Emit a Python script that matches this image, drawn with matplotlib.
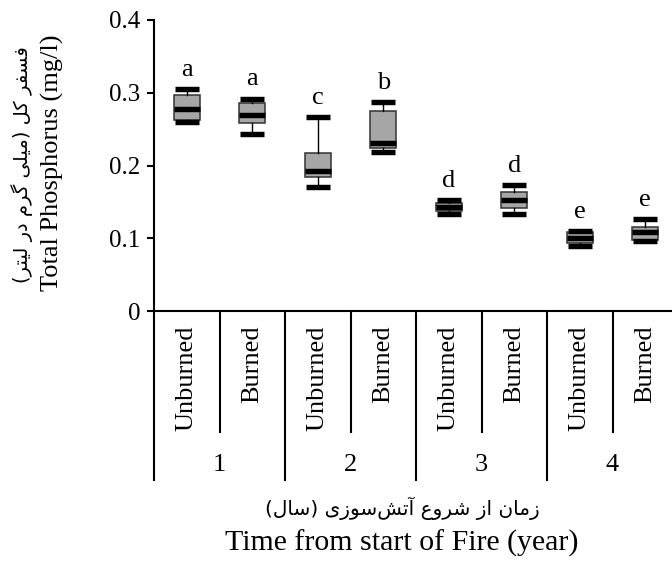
import numpy as np
import matplotlib
matplotlib.use("Agg")
import matplotlib.pyplot as plt
import matplotlib.transforms as mtransforms

plt.rcParams['font.family'] = ['Liberation Serif', 'DejaVu Sans']
plt.rcParams['axes.unicode_minus'] = False

# box statistics for each treatment (mg/l)
treatments = ['Unburned', 'Burned', 'Unburned', 'Burned',
              'Unburned', 'Burned', 'Unburned', 'Burned']
years = ['1', '2', '3', '4']
whishi = [0.305, 0.292, 0.266, 0.287, 0.152, 0.173, 0.110, 0.126]
q3 = [0.297, 0.286, 0.217, 0.275, 0.148, 0.163, 0.108, 0.116]
med = [0.277, 0.270, 0.193, 0.231, 0.143, 0.153, 0.100, 0.108]
q1 = [0.262, 0.259, 0.184, 0.224, 0.137, 0.141, 0.093, 0.097]
whislo = [0.260, 0.243, 0.171, 0.218, 0.133, 0.133, 0.090, 0.096]
letters = ['a', 'a', 'c', 'b', 'd', 'd', 'e', 'e']

ylabel_fa = 'فسفر کل (میلی گرم در لیتر)'
xlabel_fa = 'زمان از شروع آتش\u200cسوزی (سال)'

# presentation forms: isolated, final, initial, medial
FORMS = {
    'ا': ('\uFE8D', '\uFE8E', None, None),
    'آ': ('\uFE81', '\uFE82', None, None),
    'ت': ('\uFE95', '\uFE96', '\uFE97', '\uFE98'),
    'د': ('\uFEA9', '\uFEAA', None, None),
    'ر': ('\uFEAD', '\uFEAE', None, None),
    'ز': ('\uFEAF', '\uFEB0', None, None),
    'س': ('\uFEB1', '\uFEB2', '\uFEB3', '\uFEB4'),
    'ش': ('\uFEB5', '\uFEB6', '\uFEB7', '\uFEB8'),
    'ع': ('\uFEC9', '\uFECA', '\uFECB', '\uFECC'),
    'ف': ('\uFED1', '\uFED2', '\uFED3', '\uFED4'),
    'ل': ('\uFEDD', '\uFEDE', '\uFEDF', '\uFEE0'),
    'م': ('\uFEE1', '\uFEE2', '\uFEE3', '\uFEE4'),
    'ن': ('\uFEE5', '\uFEE6', '\uFEE7', '\uFEE8'),
    'و': ('\uFEED', '\uFEEE', None, None),
    'ک': ('\uFB8E', '\uFB8F', '\uFB90', '\uFB91'),
    'گ': ('\uFB92', '\uFB93', '\uFB94', '\uFB95'),
    'ی': ('\uFBFC', '\uFBFD', '\uFBFE', '\uFBFF'),
}


def shape_fa(text):
    out = []
    for i, ch in enumerate(text):
        if ch == '\u200c':
            continue
        if ch not in FORMS:
            out.append(ch)
            continue
        iso, fin, ini, med_ = FORMS[ch]
        prev = text[i - 1] if i > 0 else ''
        nxt = text[i + 1] if i + 1 < len(text) else ''
        j_prev = prev in FORMS and FORMS[prev][2] is not None
        j_next = ini is not None and nxt in FORMS
        if j_prev and j_next:
            out.append(med_)
        elif j_prev:
            out.append(fin)
        elif j_next:
            out.append(ini)
        else:
            out.append(iso)
    vis = ''.join(reversed(out))
    return vis.translate(str.maketrans('()', ')('))


fig = plt.figure(figsize=(6.72, 5.69), dpi=100)
W, H = 672, 569
ax = fig.add_axes([154 / W, 1 - 311 / H, 524 / W, 291 / H])

pos = np.arange(1, len(treatments) + 1)
stats = [dict(whishi=whishi[i], q3=q3[i], med=med[i], q1=q1[i], whislo=whislo[i])
         for i in range(len(pos))]
ax.bxp(stats, positions=pos, widths=0.4, capwidths=0.36, patch_artist=True,
       showfliers=False,
       boxprops=dict(facecolor='#a6a6a6', edgecolor='#333333', linewidth=1.1),
       medianprops=dict(color='black', linewidth=3.9, solid_capstyle='butt'),
       capprops=dict(color='black', linewidth=3.9, solid_capstyle='butt'),
       whiskerprops=dict(color='black', linewidth=1.0))

for p, top, s in zip(pos, whishi, letters):
    ax.annotate(s, (p, top), xytext=(0, 9.5), textcoords='offset points',
                ha='center', va='baseline', fontsize=19)

ax.set_xlim(0.5, len(treatments) + 0.5)
ax.set_ylim(0, 0.4)
ax.set_yticks([0, 0.1, 0.2, 0.3, 0.4])
ax.set_yticklabels(['0', '0.1', '0.2', '0.3', '0.4'])
ax.tick_params(axis='y', direction='out', length=5, width=1.5, labelsize=18, pad=5)
ax.tick_params(axis='x', bottom=False, labelbottom=False)
for side in ['top', 'right']:
    ax.spines[side].set_visible(False)
for side in ['left', 'bottom']:
    ax.spines[side].set_linewidth(1.5)

# two-level category axis below the plot
trans = mtransforms.blended_transform_factory(ax.transData, ax.transAxes)
ax_h = 291.0
for i, name in enumerate(treatments):
    ax.text(pos[i], -14 / ax_h, name, rotation=90, ha='center', va='top',
            fontsize=19, transform=trans)
for k in range(len(years)):
    left = 0.5 + 2 * k
    ax.plot([left, left], [0, -169 / ax_h], color='black', lw=1.5,
            transform=trans, clip_on=False)
    ax.plot([left + 1, left + 1], [0, -121 / ax_h], color='black', lw=1.5,
            transform=trans, clip_on=False)
    ax.text(left + 1, -154 / ax_h, years[k], ha='center', va='center',
            fontsize=19, transform=trans)

# axis titles (Persian and English)
fig.text(22 / W, 1 - 165 / H, shape_fa(ylabel_fa), rotation=90, ha='center',
         va='center', fontsize=14, family=['DejaVu Sans'])
fig.text(52 / W, 1 - 163 / H, 'Total Phosphorus (mg/l)', rotation=90,
         ha='center', va='center', fontsize=19)
fig.text(402 / W, 1 - 508 / H, shape_fa(xlabel_fa), ha='center', va='center',
         fontsize=14.5, family=['DejaVu Sans'])
fig.text(402 / W, 1 - 543 / H, 'Time from start of Fire (year)', ha='center',
         va='center', fontsize=21.5)

fig.savefig('out.png', dpi=100)
